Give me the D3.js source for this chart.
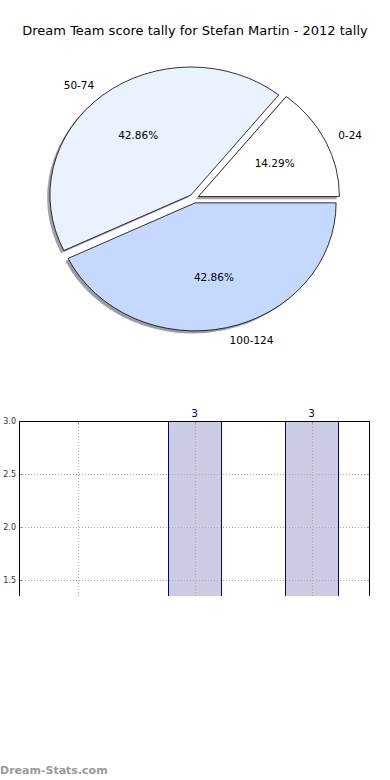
<!DOCTYPE html>
<html>
<head>
<meta charset="utf-8">
<script src="https://cdn.jsdelivr.net/npm/d3@7/dist/d3.min.js"></script>
<style>
  body { margin: 0; background: #fff; }
  #chart { width: 390px; height: 780px; }
  text { font-family: "DejaVu Sans", sans-serif; }
</style>
</head>
<body>
<div id="chart"></div>
<script>
var title = "Dream Team score tally for Stefan Martin - 2012 tally";

var categories = ["0-24", "50-74", "100-124"];
var counts = [1, 3, 3];
var sliceColors = ["#ffffff", "#eaf1ff", "#c5d9ff"];

var yTicks = [1.5, 2.0, 2.5, 3.0];

var width = 390;
var height = 780;

var svg = d3.select("#chart")
    .append("svg")
    .attr("width", width)
    .attr("height", height);

svg.append("text")
    .attr("x", 195)
    .attr("y", 35)
    .attr("text-anchor", "middle")
    .attr("font-size", "13px")
    .attr("fill", "#000")
    .text(title);

// ---- pie (matplotlib style: starts at 3 o'clock, counter-clockwise)
var cx = 194, cy = 198.5, rx = 141, ry = 128, explode = 0.035;
var total = d3.sum(counts);

var pie = d3.pie()
    .sort(null)
    .startAngle(Math.PI / 2)
    .endAngle(Math.PI / 2 - 2 * Math.PI);

var arcs = pie(counts);

var arc = d3.arc().innerRadius(0).outerRadius(1);

var pieG = svg.append("g");

arcs.forEach(function(d) {
    var mid = (d.startAngle + d.endAngle) / 2;
    d.ox = cx + Math.sin(mid) * explode * rx;
    d.oy = cy - Math.cos(mid) * explode * ry;
    d.mid = mid;
});

// shadows first
pieG.selectAll("path.shadow")
    .data(arcs)
    .enter()
    .append("path")
        .attr("class", "shadow")
        .attr("transform", function(d) { return "translate(" + (d.ox - 2.8) + "," + (d.oy + 2.6) + ") scale(" + rx + "," + ry + ")"; })
        .attr("d", arc)
        .attr("fill", function(d, i) { return d3.rgb(sliceColors[i]).darker(3.5); })
        .attr("opacity", 0.5);

pieG.selectAll("path.slice")
    .data(arcs)
    .enter()
    .append("path")
        .attr("class", "slice")
        .attr("transform", function(d) { return "translate(" + d.ox + "," + d.oy + ") scale(" + rx + "," + ry + ")"; })
        .attr("d", arc)
        .attr("fill", function(d, i) { return sliceColors[i]; })
        .attr("stroke", "#000")
        .attr("stroke-width", 0.8)
        .attr("vector-effect", "non-scaling-stroke");

pieG.selectAll("text.cat")
    .data(arcs)
    .enter()
    .append("text")
        .attr("class", "cat")
        .attr("x", function(d) { return d.ox + Math.sin(d.mid) * 1.1 * rx; })
        .attr("y", function(d) { return d.oy - Math.cos(d.mid) * 1.1 * ry; })
        .attr("dy", "0.35em")
        .attr("text-anchor", function(d) { return Math.sin(d.mid) > 0 ? "start" : "end"; })
        .attr("font-size", "10.5px")
        .text(function(d, i) { return categories[i]; });

pieG.selectAll("text.pct")
    .data(arcs)
    .enter()
    .append("text")
        .attr("class", "pct")
        .attr("x", function(d) { return d.ox + Math.sin(d.mid) * 0.6 * rx; })
        .attr("y", function(d) { return d.oy - Math.cos(d.mid) * 0.6 * ry; })
        .attr("dy", "0.35em")
        .attr("text-anchor", "middle")
        .attr("font-size", "10.5px")
        .text(function(d) { return (d.value / total * 100).toFixed(2) + "%"; });

// ---- bar chart (cut off at the bottom)
var plotLeft = 19, plotRight = 370, plotTop = 421, plotBottom = 596;

var x = d3.scaleLinear()
    .domain([-0.5, categories.length - 0.5])
    .range([plotLeft, plotRight]);

var y = d3.scaleLinear()
    .domain([3 - (plotBottom - plotTop) / 106.33, 3])
    .range([plotBottom, plotTop]);

svg.append("clipPath")
    .attr("id", "plotClip")
    .append("rect")
        .attr("x", plotLeft)
        .attr("y", plotTop)
        .attr("width", plotRight - plotLeft)
        .attr("height", plotBottom - plotTop);

var plot = svg.append("g").attr("clip-path", "url(#plotClip)");

var barW = 0.45;

plot.selectAll("rect.bar")
    .data(counts)
    .enter()
    .append("rect")
        .attr("class", "bar")
        .attr("x", function(d, i) { return Math.round(x(i - barW / 2)) + 0.5; })
        .attr("y", function(d) { return Math.round(y(d)) + 0.5; })
        .attr("width", Math.round(x(barW) - x(0)))
        .attr("height", function(d) { return Math.max(0, plotBottom + 10 - y(d)); })
        .attr("fill", "#ccccE4")
        .attr("stroke", "#00008b")
        .attr("stroke-width", 1);

// grid
plot.selectAll("line.hgrid")
    .data(yTicks)
    .enter()
    .append("line")
        .attr("x1", plotLeft).attr("x2", plotRight)
        .attr("y1", function(d) { return Math.round(y(d)) + 0.5; })
        .attr("y2", function(d) { return Math.round(y(d)) + 0.5; })
        .attr("stroke", "#aaa")
        .attr("stroke-width", 1)
        .attr("stroke-dasharray", "1,2");

plot.selectAll("line.vgrid")
    .data(categories)
    .enter()
    .append("line")
        .attr("x1", function(d, i) { return Math.round(x(i)) + 0.5; })
        .attr("x2", function(d, i) { return Math.round(x(i)) + 0.5; })
        .attr("y1", plotTop).attr("y2", plotBottom)
        .attr("stroke", "#aaa")
        .attr("stroke-width", 1)
        .attr("stroke-dasharray", "1,2");

// small inward ticks
yTicks.forEach(function(t) {
    var yy = Math.round(y(t)) + 0.5;
    svg.append("line").attr("x1", plotLeft).attr("x2", plotLeft + 3).attr("y1", yy).attr("y2", yy).attr("stroke", "#999");
    svg.append("line").attr("x1", plotRight - 3).attr("x2", plotRight).attr("y1", yy).attr("y2", yy).attr("stroke", "#999");
});
categories.forEach(function(c, i) {
    var xx = Math.round(x(i)) + 0.5;
    svg.append("line").attr("x1", xx).attr("x2", xx).attr("y1", plotTop).attr("y2", plotTop + 3).attr("stroke", "#999");
});

// frame: left, top, right
svg.append("path")
    .attr("d", "M" + (plotLeft + 0.5) + "," + plotBottom + "V" + (plotTop + 0.5) + "H" + (plotRight - 0.5) + "V" + plotBottom)
    .attr("fill", "none")
    .attr("stroke", "#000")
    .attr("stroke-width", 1);

svg.selectAll("text.ytick")
    .data(yTicks)
    .enter()
    .append("text")
        .attr("class", "ytick")
        .attr("x", plotLeft - 3)
        .attr("y", function(d) { return y(d); })
        .attr("dy", "0.35em")
        .attr("text-anchor", "end")
        .attr("font-size", "8px")
        .attr("fill", "#333")
        .text(function(d) { return d3.format(".1f")(d); });

svg.selectAll("text.barlabel")
    .data(counts)
    .enter()
    .append("text")
        .attr("class", "barlabel")
        .attr("x", function(d, i) { return x(i); })
        .attr("y", function(d) { return y(d) - 4; })
        .attr("text-anchor", "middle")
        .attr("font-size", "10.5px")
        .attr("fill", "#00008b")
        .style("display", function(d) { return y(d) > plotBottom ? "none" : null; })
        .text(function(d) { return d; });

svg.append("text")
    .attr("x", 0)
    .attr("y", 774)
    .attr("font-family", "Open Sans, sans-serif")
    .attr("font-weight", "600")
    .attr("font-size", "11px")
    .attr("fill", "#999")
    .text("Dream-Stats.com");
</script>
</body>
</html>
